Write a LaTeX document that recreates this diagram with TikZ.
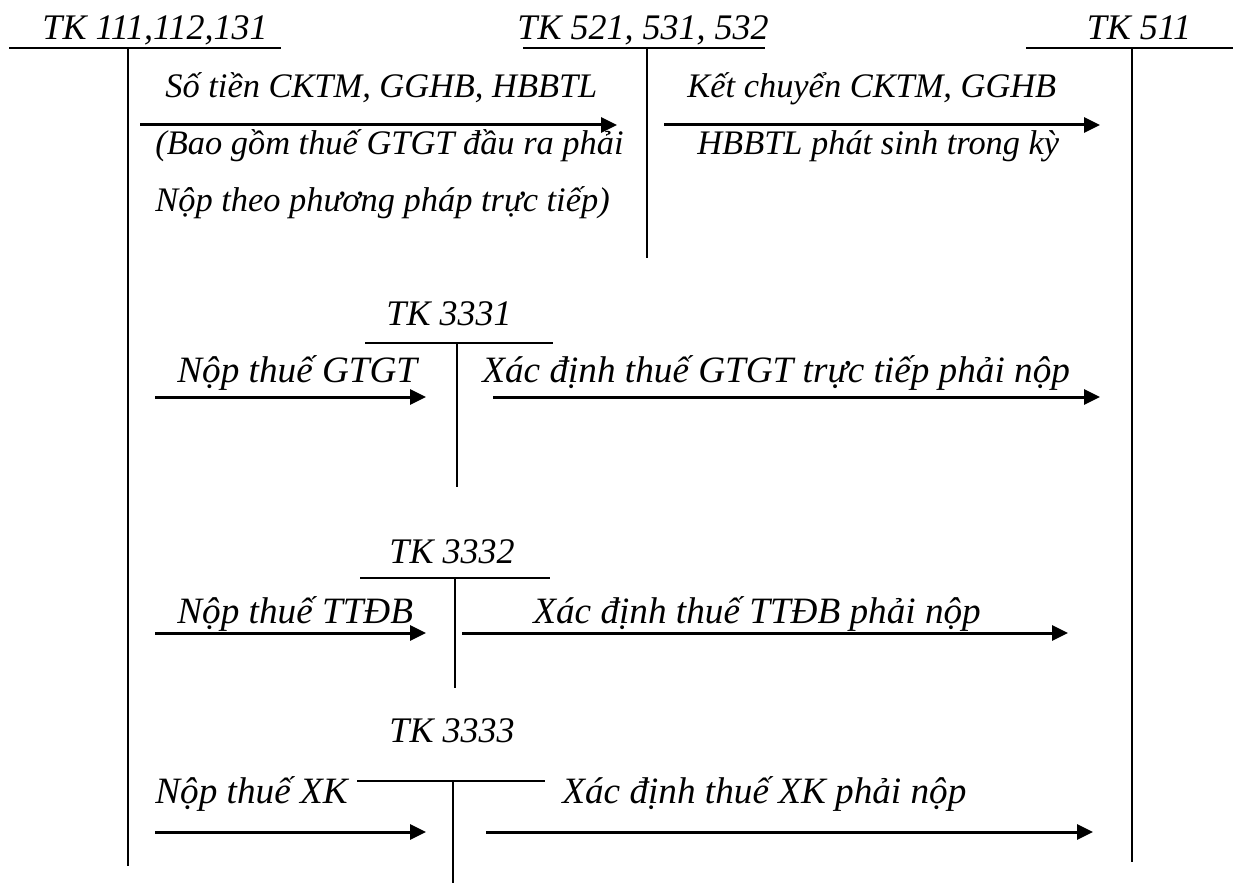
\documentclass[tikz,border=0pt]{standalone}
\usepackage{fontspec}
\setmainfont{Liberation Serif}
\usetikzlibrary{arrows.meta}

\tikzset{
  lbl/.style={font=\fontsize{17.2}{21}\selectfont\itshape, inner sep=0pt, anchor=base west},
  lblb/.style={font=\fontsize{18.6}{22}\selectfont\itshape, inner sep=0pt, anchor=base west},
  ttl/.style={font=\fontsize{18}{22}\selectfont\itshape, inner sep=0pt, anchor=base},
  acct/.style={line width=1pt},
  flow/.style={line width=1.5pt, -{Triangle[length=8pt,width=7.5pt]}}
}

\begin{document}
\begin{tikzpicture}[x=0.5pt, y=-0.5pt]
\useasboundingbox (0,0) rectangle (1233,883);
% account titles
\node[ttl] (t111) at (155,40) {TK 111,112,131};
\node[ttl] (t521) at (643,40) {TK 521, 531, 532};
\node[ttl] (t511) at (1139,40) {TK 511};
\node[ttl] (t3331) at (449,325) {TK 3331};
\node[ttl] (t3332) at (452,563) {TK 3332};
\node[ttl] (t3333) at (452,742) {TK 3333};
% T accounts
\draw[acct] (9,48) -- (281,48);
\draw[acct] (128,48) -- (128,866);
\draw[acct] (523,48) -- (765,48);
\draw[acct] (647,48) -- (647,258);
\draw[acct] (1026,48) -- (1233,48);
\draw[acct] (1132,48) -- (1132,862);
\draw[acct] (365,343) -- (553,343);
\draw[acct] (457,343) -- (457,487);
\draw[acct] (360,578) -- (550,578);
\draw[acct] (455,578) -- (455,688);
\draw[acct] (357,781) -- (545,781);
\draw[acct] (453,781) -- (453,883);
% arrow ends
\coordinate (s1) at (140,125);  \coordinate (e1) at (617,125);
\coordinate (s2) at (664,125);  \coordinate (e2) at (1100,125);
\coordinate (s3) at (155,397);  \coordinate (e3) at (426,397);
\coordinate (s4) at (493,397);  \coordinate (e4) at (1100,397);
\coordinate (s5) at (155,633);  \coordinate (e5) at (426,633);
\coordinate (s6) at (462,633);  \coordinate (e6) at (1068,633);
\coordinate (s7) at (155,832);  \coordinate (e7) at (426,832);
\coordinate (s8) at (486,832);  \coordinate (e8) at (1093,832);
\draw[flow] (s1) -- (e1);
\draw[flow] (s2) -- (e2);
\draw[flow] (s3) -- (e3);
\draw[flow] (s4) -- (e4);
\draw[flow] (s5) -- (e5);
\draw[flow] (s6) -- (e6);
\draw[flow] (s7) -- (e7);
\draw[flow] (s8) -- (e8);
% labels
\node[lbl] (l1a) at (165,98) {Số tiền CKTM, GGHB, HBBTL};
\node[lbl] (l1b) at (155,155) {(Bao gồm thuế GTGT đầu ra phải};
\node[lbl] (l1c) at (155,212) {Nộp theo phương pháp trực tiếp)};
\node[lbl] (l2a) at (687,98) {Kết chuyển CKTM, GGHB};
\node[lbl] (l2b) at (697,155) {HBBTL phát sinh trong kỳ};
\node[lblb] (l3) at (177,382) {Nộp thuế GTGT};
\node[lblb] (l4) at (482,382) {Xác định thuế GTGT trực tiếp phải nộp};
\node[lblb] (l5) at (177,623) {Nộp thuế TTĐB};
\node[lblb] (l6) at (533,623) {Xác định thuế TTĐB phải nộp};
\node[lblb] (l7) at (155,803) {Nộp thuế XK};
\node[lblb] (l8) at (562,803) {Xác định thuế XK phải nộp};
\end{tikzpicture}
\end{document}
